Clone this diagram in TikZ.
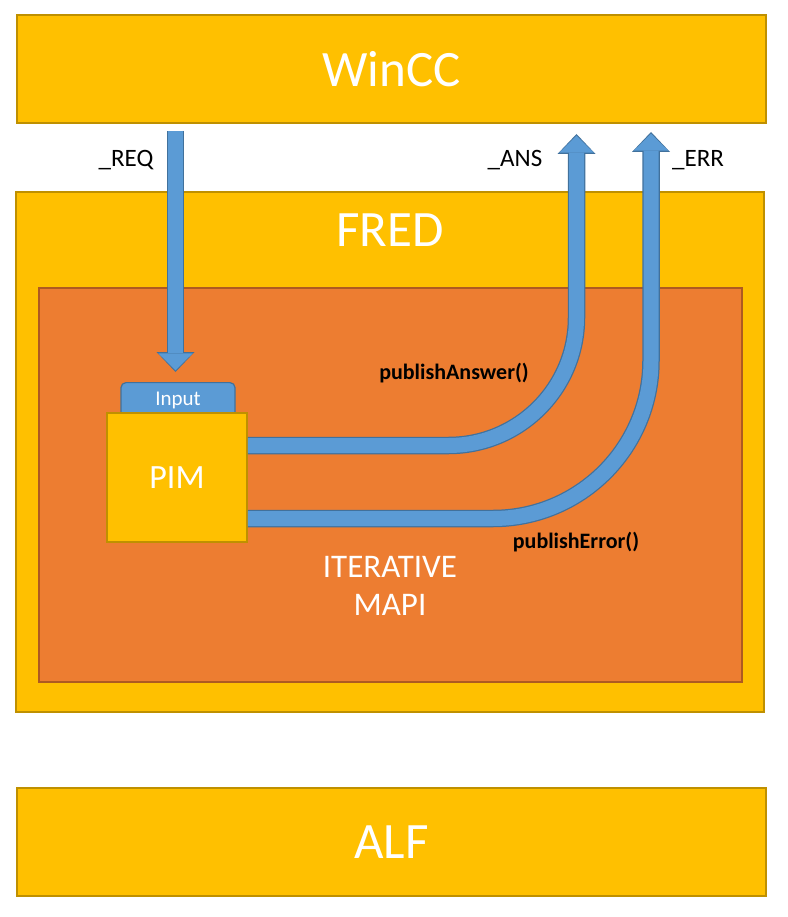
\documentclass[tikz,border=0pt]{standalone}
\usepackage{fontspec}
\setmainfont{Carlito}
\usepackage{xcolor}
\usetikzlibrary{
  positioning, arrows.meta, calc
}
\definecolor{gold}{HTML}{FFC000}
\definecolor{goldedge}{HTML}{BF9000}
\definecolor{rust}{HTML}{ED7D31}
\definecolor{rustedge}{HTML}{AE5A21}
\definecolor{sky}{HTML}{5B9BD5}
\definecolor{skyedge}{HTML}{41719C}

\begin{document}
\begin{tikzpicture}
      [x=1pt, y=-1pt, inner sep=0pt,
       bar/.style={rectangle,draw=goldedge,fill=gold,line width=1.5pt},
       box/.style={rectangle,draw=rustedge,fill=rust,line width=1.5pt},
       tab/.style={rectangle,rounded corners=5pt,draw=skyedge,fill=sky,line width=1.2pt},
       big/.style={text=white,font=\fontsize{51}{61}\selectfont},
       tag/.style={font=\fontsize{25}{30}\selectfont},
       call/.style={font=\fontsize{22}{26}\selectfont\bfseries},
       pipe edge/.style={draw=skyedge,line width=17.5pt,
         -{Triangle[width=38pt,length=20pt,line width=0pt 0]}},
       pipe body/.style={draw=sky,line width=15pt,shorten >=1.7pt,
         -{Triangle[width=34.5pt,length=17pt,line width=0pt 0]}}]
        \useasboundingbox (0,0) rectangle (787,917);
        \fill[white] (0,0) rectangle (787,917);

        \node (W) at (391.5,69) [bar,big,minimum width=749pt,minimum height=108pt] {WinCC};
        \node (F) at (390,452) [bar,minimum width=748pt,minimum height=520pt] {};
        \node (Ft) at (390,230) [big] {FRED};
        \node (M) at (390.5,485) [box,minimum width=703pt,minimum height=394pt] {};
        \node (Mt) at (390,586) [text=white,align=center,font=\fontsize{33}{38}\selectfont] {ITERATIVE\\MAPI};
        \node (A) at (391.5,842) [bar,big,minimum width=749pt,minimum height=108pt] {ALF};

        \node (I) at (178,382) [tab,anchor=north,minimum width=114pt,minimum height=38pt,
          text=white,font=\fontsize{21}{25}\selectfont] {\raisebox{5pt}{Input}};
        \node (P) at (177,477.5) [bar,minimum width=140pt,minimum height=129pt,
          text=white,font=\fontsize{34}{40}\selectfont] {PIM};

        \coordinate (reqtop) at (175.5,131);
        \coordinate (anstip) at (576.5,134);
        \coordinate (errtip) at (651,132);

        \foreach \layer in {pipe edge,pipe body} {
          \draw[\layer] (reqtop) -- ($(reqtop |- I.north)+(0,-10)$);
          \draw[\layer,rounded corners=128pt] ([yshift=32pt]P.east) -| (anstip);
          \draw[\layer,rounded corners=158pt] ([yshift=-41pt]P.east) -| (errtip);
        }

        \node (req) at (126,160) [tag] {\_REQ};
        \node (ans) at (515,160) [tag] {\_ANS};
        \node (err) at (698,160) [tag] {\_ERR};
        \node (pa) at (454,373) [call] {publishAnswer()};
        \node (pe) at (576,542) [call] {publishError()};
      \end{tikzpicture}
\end{document}
